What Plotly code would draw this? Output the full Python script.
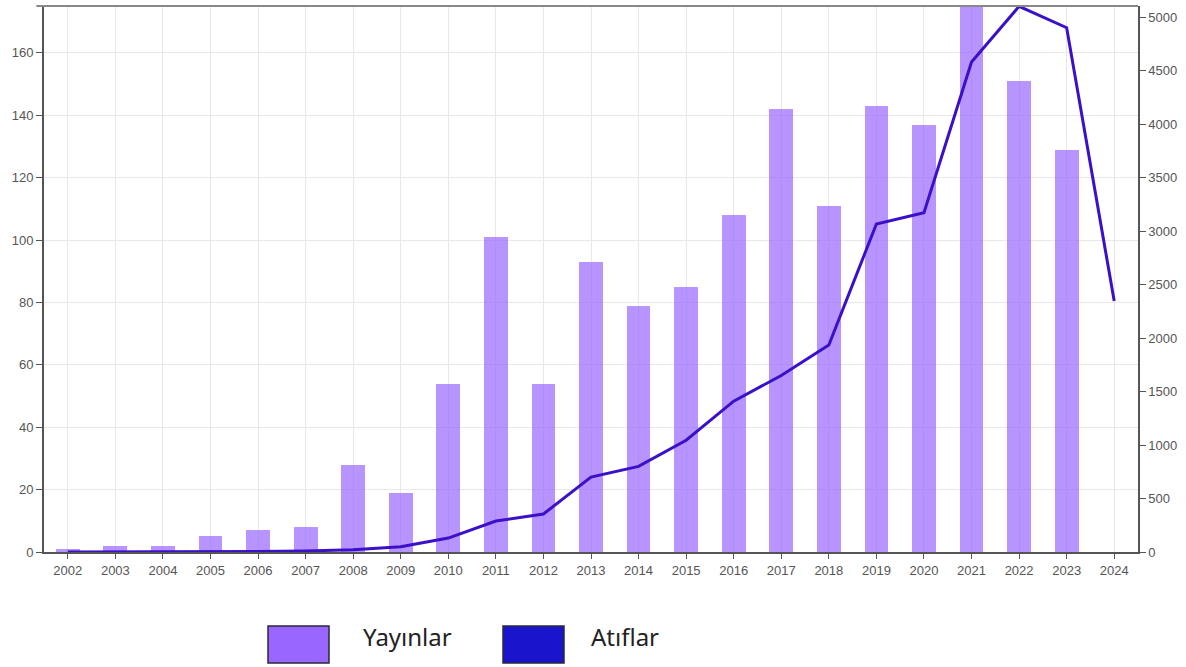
import plotly.graph_objects as go

years = [str(y) for y in range(2002, 2025)]
publications = [1, 2, 2, 5, 7, 8, 28, 19, 54, 101, 54, 93, 79, 85, 108, 142, 111, 143, 137, 185, 151, 129, 0]
citations = [0, 0, 0, 0, 5, 10, 20, 50, 130, 290, 355, 700, 800, 1045, 1410, 1650, 1935, 3065, 3170, 4580, 5100, 4900, 2345]
left_ticks = [0, 20, 40, 60, 80, 100, 120, 140, 160]
right_ticks = [0, 500, 1000, 1500, 2000, 2500, 3000, 3500, 4000, 4500, 5000]
legend_labels = ["Yayınlar", "Atıflar"]

bar_color = "rgba(153,102,255,0.7)"
line_color = "#3a10c8"

fig = go.Figure()
fig.add_trace(go.Bar(x=years, y=publications, name=legend_labels[0],
                     marker=dict(color=bar_color, line=dict(width=0)), width=0.5,
                     yaxis="y"))
fig.add_trace(go.Scatter(x=years, y=citations, name=legend_labels[1], mode="lines",
                         line=dict(color=line_color, width=3), yaxis="y2", cliponaxis=False))

tick_font = dict(family="Liberation Sans, Arial", size=13, color="#555")
fig.update_layout(
    width=1186, height=667,
    margin=dict(l=44, r=48, t=6, b=115),
    paper_bgcolor="white", plot_bgcolor="white",
    showlegend=False,
    bargap=0,
    hovermode=False,
    xaxis=dict(type="category", range=[-0.5, 22.5], showgrid=True, gridcolor="#e8e8e8",
               showline=True, linecolor="#555", linewidth=2, mirror=False,
               ticks="outside", ticklen=5, tickcolor="#555", tickfont=tick_font,
               zeroline=False),
    yaxis=dict(range=[0, 175], tickvals=left_ticks, showgrid=True, gridcolor="#e8e8e8",
               showline=True, linecolor="#555", linewidth=2, ticks="outside",
               ticklen=6, tickcolor="#555", tickfont=tick_font, zeroline=False),
    yaxis2=dict(range=[0, 5103], tickvals=right_ticks, overlaying="y", side="right",
                showgrid=False, showline=True, linecolor="#555", linewidth=1.5,
                ticks="outside", ticklen=6, tickcolor="#555", tickfont=tick_font,
                zeroline=False),
)

# top frame line
fig.add_shape(type="line", xref="paper", yref="paper", x0=-0.007, x1=1, y0=1, y1=1,
              line=dict(color="#888", width=2))

# custom legend below the chart
W, H = 1094.0, 546.0
def px(xp):
    return (xp - 44) / W
def py(yp):
    return (552 - yp) / H

swatches = [(268, 329, "#9966ff"), (503, 564, "#1a14cc")]
text_x = [361, 589]
for (x0, x1, col), tx, lab in zip(swatches, text_x, legend_labels):
    fig.add_shape(type="rect", xref="paper", yref="paper",
                  x0=px(x0), x1=px(x1), y0=py(663), y1=py(626),
                  fillcolor=col, line=dict(color="#2a2a3a", width=1.5))
    fig.add_annotation(xref="paper", yref="paper", x=px(tx), y=py(637),
                       xanchor="left", yanchor="middle", text=lab, showarrow=False,
                       font=dict(family="Noto Sans", size=24, color="#222"))

fig.write_html("out.html", config={"displayModeBar": False},
               post_script="document.body.style.margin='0';")
